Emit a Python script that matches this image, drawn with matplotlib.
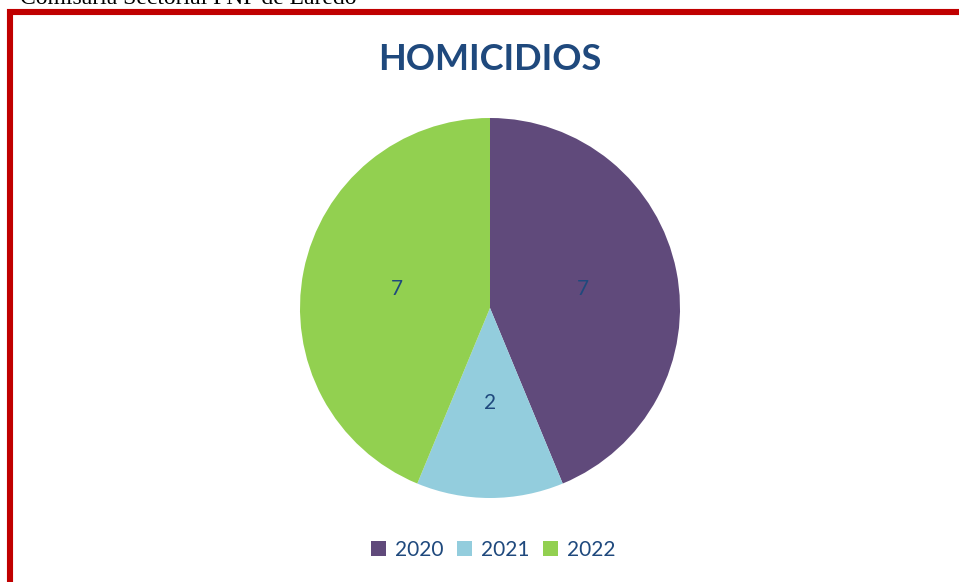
import matplotlib.pyplot as plt
from matplotlib.patches import Patch, Rectangle

# data
years = ['2020', '2021', '2022']
homicidios = [7, 2, 7]
colors = ['#604A7B', '#93CDDD', '#92D050']
text_blue = '#1F497D'

W, H = 959, 582
fig = plt.figure(figsize=(W / 100, H / 100), dpi=100)
fig.patch.set_facecolor('white')

# header text, partly cut off at the top (as in the source)
fig.text(20 / W, 1 - 4 / H, 'Comisaría Sectorial PNP de Laredo',
         family='Liberation Serif', fontsize=17, va='baseline', ha='left')

# red frame running off the right and bottom edges
fig.patches.append(Rectangle((10 / W, -0.2), 1.2, 1 - 12 / H + 0.2,
                             transform=fig.transFigure, fill=False,
                             edgecolor='#C00000', linewidth=4.4))

fig.text(490 / W, 1 - 60 / H, 'HOMICIDIOS', family='Lato', fontweight='bold',
         fontsize=26, color=text_blue, ha='center', va='center')

# pie: centre (490, 308), radius 190 px
ax = fig.add_axes([(490 - 190) / W, (H - 308 - 190) / H, 380 / W, 380 / H])
wedges, texts = ax.pie(homicidios, colors=colors, startangle=90, counterclock=False,
                       labels=[str(v) for v in homicidios], labeldistance=0.5,
                       textprops=dict(family='Lato', fontsize=15, color=text_blue,
                                      ha='center', va='center'))
ax.set_xlim(-1, 1)
ax.set_ylim(-1, 1)

handles = [Patch(facecolor=c, edgecolor='none') for c in colors]
fig.legend(handles, years, loc='center', bbox_to_anchor=(493 / W, 1 - 550 / H),
           ncol=3, frameon=False, handlelength=0.75, handleheight=0.75,
           handletextpad=0.4, columnspacing=0.65,
           prop=dict(family='Lato', size=15), labelcolor=text_blue)

fig.savefig('out.png', dpi=100)
